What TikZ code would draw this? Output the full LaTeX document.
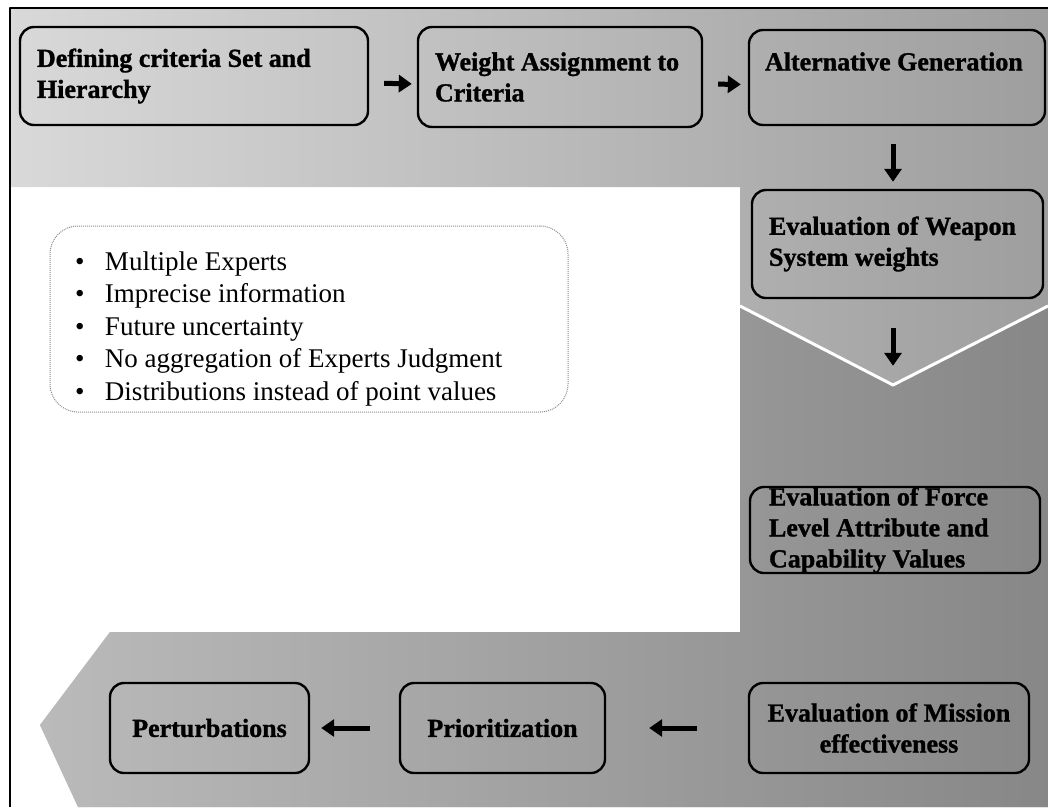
\documentclass[tikz,border=0pt]{standalone}
\usepackage{fontspec}
\setmainfont{Liberation Serif}[BoldFeatures={FakeBold=1.2}]
\usetikzlibrary{arrows.meta}
\newcommand{\listdot}{\makebox[30pt][l]{\textbullet}}

\begin{document}
\begin{tikzpicture}[x=1pt, y=-1pt, line join=round,
    stagebox/.style={draw=black, line width=2.4pt, rounded corners=14pt,
        font=\fontsize{26}{31}\selectfont\bfseries, inner ysep=0pt},
    leftbox/.style={stagebox, align=flush left},
    midbox/.style={stagebox, align=center, minimum height=90pt},
    flowarrow/.style={line width=5pt, -{Triangle[width=17pt,length=13pt]}}]
    \useasboundingbox (0,0) rectangle (1048,807);

    % grauer Hintergrund (oben, rechts, unten mit Spitze nach links)
    \coordinate (G1) at (10,8);
    \coordinate (G2) at (1048,8);
    \coordinate (G3) at (1048,807);
    \coordinate (G4) at (78,807);
    \coordinate (G5) at (40,725);
    \coordinate (G6) at (110,632);
    \coordinate (G7) at (740,632);
    \coordinate (G8) at (740,187);
    \coordinate (G9) at (10,187);
    \shade[left color=black!15, right color=black!38]
        (G1) -- (G2) -- (G3) -- (G4) -- (G5) -- (G6) -- (G7) -- (G8) -- (G9) -- cycle;

    % dunklerer Teil unter dem Winkel und unten
    \coordinate (V1) at (740,306);
    \coordinate (V2) at (893,385);
    \coordinate (V3) at (1048,306);
    \shade[left color=black!27, right color=black!47]
        (V1) -- (V2) -- (V3) -- (G3) -- (G4) -- (G5) -- (G6) -- (G7) -- cycle;
    \draw[white, line width=3pt] (V1) -- (V2) -- (V3);

    % Rahmen
    \draw[line width=1.6pt] (10,807) -- (G1) -- (G2);

    % obere Reihe
    \node[leftbox, inner xsep=17pt, text width=314pt, minimum height=98pt] (b1) at (194,76)
        {Defining criteria Set and\\Hierarchy};
    \node[leftbox, inner xsep=17pt, text width=250pt, minimum height=100pt] (b2) at (560,77)
        {Weight Assignment to\\Criteria};
    \node[leftbox, inner xsep=16pt, text width=264pt, minimum height=95pt] (b3) at (897,77.5)
        {Alternative Generation\\[-8pt] \strut};

    % rechte Spalte
    \node[leftbox, inner xsep=17pt, text width=257pt, minimum height=108pt] (b4) at (897.5,244)
        {Evaluation of Weapon\\System weights};
    \node[leftbox, inner xsep=19pt, text width=252pt, minimum height=86pt] (b5) at (895,530)
        {Evaluation of Force\\Level Attribute and\\Capability Values};

    % untere Reihe
    \node[midbox, minimum width=280pt] (b6) at (889,728) {Evaluation of Mission\\effectiveness};
    \node[midbox, minimum width=205pt] (b7) at (502.5,728) {Prioritization};
    \node[midbox, minimum width=199pt] (b8) at (209.5,728) {Perturbations};

    % Liste
    \node[draw=black!45, densely dotted, line width=1pt, rounded corners=28pt,
        minimum height=186pt, inner xsep=25pt, text width=468pt, align=flush left,
        font=\fontsize{27}{32.5}\selectfont] (notes) at (309,319)
        {\rule{0pt}{38pt}\listdot Multiple Experts\\
         \listdot Imprecise information\\
         \listdot Future uncertainty\\
         \listdot No aggregation of Experts Judgment\\
         \listdot Distributions instead of point values};

    % Pfeile
    \draw[flowarrow, shorten <=15pt, shorten >=5pt] ([yshift=-7pt]b1.east) -- ([yshift=-7pt]b2.west);
    \draw[flowarrow, shorten <=15pt, shorten >=7pt] ([yshift=-7pt]b2.east) -- ([yshift=-7pt]b3.west);
    \draw[flowarrow, shorten <=18pt, shorten >=7pt] (b3.south -| 893,0) -- (b4.north -| 893,0);
    \draw[flowarrow, shorten <=29pt, shorten >=120pt] (b4.south -| 893,0) -- (b5.north -| 893,0);
    \draw[flowarrow, shorten <=51pt, shorten >=43pt] (b6.west) -- (b7.east);
    \draw[flowarrow, shorten <=29pt, shorten >=11pt] (b7.west) -- (b8.east);
\end{tikzpicture}
\end{document}
